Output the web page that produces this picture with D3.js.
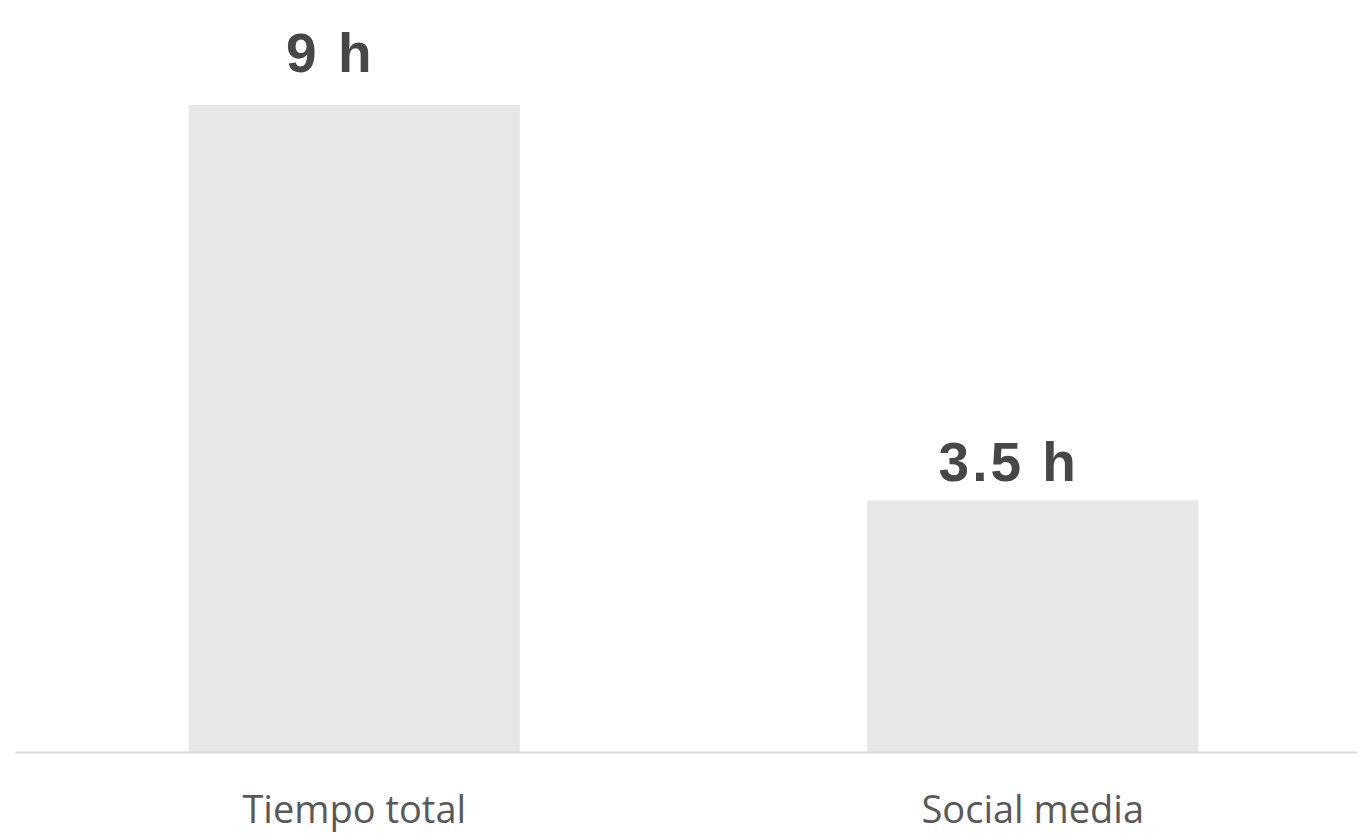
<!DOCTYPE html>
<html><head><meta charset="utf-8">
<script src="https://cdn.jsdelivr.net/npm/d3@7"></script>
<style>html,body{margin:0;padding:0;background:#fff;overflow:hidden}</style>
</head><body>
<svg id="c" width="1357" height="833"></svg>
<script>
const categories = ["Tiempo total", "Social media"];
const values = [9, 3.5];
const valueLabels = ["9 h", "3.5 h"];
const labelGaps = [33, 19];

const svg = d3.select("#c");
const x = d3.scaleBand().domain(categories).range([15, 1372]).paddingInner(0.512).paddingOuter(0.256);
const y = d3.scaleLinear().domain([0, 10]).range([752, 33]);

svg.selectAll("rect.bar").data(values).join("rect")
  .attr("class","bar")
  .attr("x",(d,i)=>x(categories[i]))
  .attr("width",x.bandwidth())
  .attr("y",d=>y(d))
  .attr("height",d=>y(0)-y(d))
  .attr("fill","#e7e7e7");

const ax = svg.append("g").attr("transform",`translate(0,${y(0)})`)
  .call(d3.axisBottom(x).tickSize(0).tickPadding(0));
ax.select(".domain").attr("stroke","#d9d9d9").attr("stroke-width",2);
ax.selectAll(".tick text")
  .attr("dy",null).attr("y",71)
  .attr("fill","#595959")
  .style("font-family","'Open Sans', sans-serif")
  .style("font-size","38px");

svg.selectAll("text.val").data(values).join("text")
  .attr("class","val")
  .attr("x",(d,i)=>x(categories[i])+x.bandwidth()/2-24)
  .attr("y",(d,i)=>y(d)-labelGaps[i])
  .attr("text-anchor","middle")
  .attr("fill","#474747")
  .style("font-family","'Liberation Sans', Arial, sans-serif")
  .style("font-weight","bold")
  .style("font-size","55px")
  .style("letter-spacing","3px")
  .text((d,i)=>valueLabels[i]);
</script>
</body></html>
